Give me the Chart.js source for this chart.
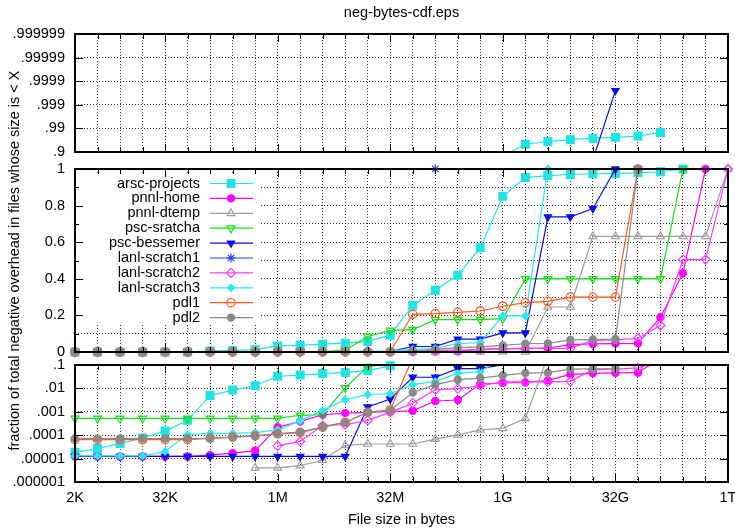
<!DOCTYPE html>
<html lang="en">
<head>
    <meta charset="UTF-8">
    <title>neg-bytes-cdf</title>
    <style>
        body{
            margin: 0;
            background: #fff;
            overflow: hidden;
        }
        #wrap{
            position: relative;
            width: 735px;
            height: 531px;
        }
        #wrap canvas{
            position: absolute;
            left: 0;
            top: 0;
        }
    </style>
</head>
<body>
<div id="wrap">
    <canvas id="topPanel" width="735" height="531"></canvas>
    <canvas id="midPanel" width="735" height="531"></canvas>
    <canvas id="botPanel" width="735" height="531"></canvas>
</div>
<script src="https://cdn.jsdelivr.net/npm/chart.js"></script>
<script>
    // x positions are powers of two: 2^11 (2K) ... 2^40 (1T)
    const exps = [11,12,13,14,15,16,17,18,19,20,21,22,23,24,25,26,27,28,29,30,31,32,33,34,35,36,37,38,39,40];
    const labelExps = [11, 15, 20, 25, 30, 35, 40];
    const labelTexts = ['2K', '32K', '1M', '32M', '1G', '32G', '1T'];

    // top panel is plotted as -log10(1 - v)
    const topTicks = [1, 2, 3, 4, 5, 6];
    const topTickLabels = ['.9', '.99', '.999', '.9999', '.99999', '.999999'];
    const midTicks = [0, 0.2, 0.4, 0.6, 0.8, 1];
    const midTickLabels = ['0', '0.2', '0.4', '0.6', '0.8', '1'];
    const midMinor = [0.1, 0.3, 0.5, 0.7, 0.9];
    const botTicks = [1e-6, 1e-5, 1e-4, 1e-3, 1e-2, 1e-1];
    const botTickLabels = ['.000001', '.00001', '.0001', '.001', '.01', '.1'];

    const seriesNames = ['arsc-projects', 'pnnl-home', 'pnnl-dtemp', 'psc-sratcha', 'psc-bessemer',
        'lanl-scratch1', 'lanl-scratch2', 'lanl-scratch3', 'pdl1', 'pdl2'];

    const arscProjects = [1.85e-5, 2.7e-5, 4.4e-5, 7.6e-5, 1.5e-4, 4.3e-4, 5.0e-3, 8.5e-3, 0.013, 0.033,
        0.037, 0.043, 0.048, 0.058, 0.092, 0.255, 0.337, 0.419, 0.57, 0.851,
        0.953, 0.964, 0.970, 0.974, 0.976, 0.979, 0.985, 1, null, null];
    const pnnlHome = [1.24e-5, 1.24e-5, 1.24e-5, 1.24e-5, 1.24e-5, 1.24e-5, 1.4e-5, 1.7e-5, 2.2e-5, 2.2e-4,
        3.9e-4, 7.5e-4, 8.8e-4, 9.4e-4, 1.03e-3, 1.1e-3, 2.9e-3, 3.2e-3, 0.0154, 0.017,
        0.018, 0.022, 0.04, 0.044, 0.046, 0.047, 0.19, 0.43, 1, null];
    const pnnlDtemp = [0, 0, 0, 0, 0, 0, 0, 0, 4e-6, 4e-6,
        5e-6, 8.5e-6, 3.7e-5, 4.2e-5, 4.2e-5, 4.2e-5, 6.8e-5, 1.04e-4, 1.7e-4, 1.95e-4,
        5.2e-4, 0.246, 0.246, 0.632, 0.632, 0.632, 0.632, 0.632, 0.632, 1];
    const pscSratcha = [5.2e-4, 5.2e-4, 5.2e-4, 5.2e-4, 5.2e-4, 5.2e-4, 5.2e-4, 5.2e-4, 5.2e-4, 5.2e-4,
        7.1e-4, 7.5e-4, 0.0105, 0.085, 0.118, 0.122, 0.177, 0.177, 0.177, 0.182,
        0.40, 0.40, 0.40, 0.40, 0.40, 0.40, 0.40, 1, null, null];
    const pscBessemer = [1.24e-5, 1.24e-5, 1.24e-5, 1.24e-5, 1.24e-5, 1.24e-5, 1.24e-5, 1.24e-5, 1.24e-5, 1.24e-5,
        1.24e-5, 1.24e-5, 1.24e-5, 1.6e-3, 3.5e-3, 0.03, 0.03, 0.07, 0.07, 0.104,
        0.104, 0.738, 0.738, 0.784, 0.99975, 1, null, null, null, null];
    const lanlScratch1 = [null, null, null, null, null, null, null, null, null, null,
        null, null, null, null, null, null, 1, null, null, null,
        null, null, null, null, null, null, null, null, null, null];
    const lanlScratch2 = [0, 0, 0, 0, 0, 0, 0, 0, 0, 3.5e-5,
        5.4e-5, 2.6e-4, 2.8e-4, 4.3e-4, 9.4e-4, 2.35e-3, 8.7e-3, 9.7e-3, 0.013, 0.019,
        0.019, 0.019, 0.02, 0.063, 0.066, 0.075, 0.146, 0.505, 0.505, 1];
    const lanlScratch3 = [1.3e-5, 1.3e-5, 1.3e-5, 1.3e-5, 2.0e-5, 1.07e-4, 1.2e-4, 1.2e-4, 1.3e-4, 1.7e-4,
        4.1e-4, 1.15e-3, 3.3e-3, 5.4e-3, 5.9e-3, 0.0144, 0.02, 0.045, 0.052, 0.197,
        0.197, 1, null, null, null, null, null, null, null, null];
    const pdl1 = [6.5e-5, 6.5e-5, 6.5e-5, 6.5e-5, 6.5e-5, 6.5e-5, 7.5e-5, 8.3e-5, 9.4e-5, 1.15e-4,
        1.3e-4, 2.2e-4, 3.5e-4, 9.5e-4, 1.2e-3, 0.206, 0.21, 0.217, 0.224, 0.25,
        0.27, 0.277, 0.30, 0.30, 0.30, 1, null, null, null, null];
    const pdl2 = [7.2e-5, 7.2e-5, 7.2e-5, 7.2e-5, 7.2e-5, 7.2e-5, 7.2e-5, 8.3e-5, 9.4e-5, 1.15e-4,
        1.4e-4, 2.2e-4, 3.6e-4, 9.5e-4, 1.15e-3, 6.7e-3, 0.0144, 0.0235, 0.0277, 0.036,
        0.045, 0.047, 0.066, 0.068, 0.07, 1, null, null, null, null];

    const seriesValues = [arscProjects, pnnlHome, pnnlDtemp, pscSratcha, pscBessemer,
        lanlScratch1, lanlScratch2, lanlScratch3, pdl1, pdl2];
    const seriesColors = ['#20e3e3', '#ff00ff', '#a0a0a0', '#12e012', '#0a0aee',
        '#2b3bff', '#ff3cff', '#28ecec', '#ff5a1e', '#8a8a8a'];
    const markerStyles = ['rect', 'circle', 'triangle', 'triangle', 'triangle',
        'star', 'rectRot', 'rectRot', 'circle', 'circle'];
    const markerRotation = [0, 0, 0, 180, 180, 0, 0, 0, 0, 0];
    const markerFilled = [true, true, false, false, true, false, false, true, false, true];
    const markerRadius = [5.5, 3.6, 4.5, 4.5, 4.2, 4.5, 4.5, 3.6, 4.2, 3.6];

    const W = 735, H = 531, L = 75, R = 728;
    const gridColor = 'rgba(0,0,0,0.8)';
    const fontFamily = "'Liberation Sans', Arial, Helvetica, sans-serif";

    Chart.defaults.font.family = fontFamily;
    Chart.defaults.font.size = 14.5;
    Chart.defaults.color = '#000';

    function near(a, b) {
        return Math.abs(a - b) <= Math.abs(b) * 1e-6 + 1e-12;
    }

    function buildDatasets(transform, lo, hi) {
        const out = [];
        seriesValues.forEach((vals, k) => {
            const pts = exps.map((x, i) => ({x, y: transform(vals[i])}));
            out.push({
                label: seriesNames[k],
                data: pts,
                borderColor: seriesColors[k],
                borderWidth: 1.2,
                pointRadius: 0,
                pointHitRadius: 0,
                spanGaps: false,
                tension: 0,
                clip: 0,
                order: -2 * k
            });
            out.push({
                label: seriesNames[k] + ' points',
                data: pts.map(p => ({x: p.x, y: (p.y !== null && p.y >= lo && p.y <= hi) ? p.y : null})),
                showLine: false,
                pointStyle: markerStyles[k],
                pointRotation: markerRotation[k],
                pointRadius: markerRadius[k],
                pointBackgroundColor: markerFilled[k] ? seriesColors[k] : 'rgba(0,0,0,0)',
                pointBorderColor: seriesColors[k],
                pointBorderWidth: 1.2,
                clip: false,
                order: -2 * k - 1
            });
        });
        return out;
    }

    function xScale(showLabels) {
        return {
            type: 'linear',
            min: 11,
            max: 40,
            afterBuildTicks: s => { s.ticks = exps.map(v => ({value: v})); },
            afterFit: s => {
                s.height = showLabels ? H - 482 : 0;
                s.paddingLeft = 0;
                s.paddingRight = 0;
            },
            grid: {color: gridColor, lineWidth: 1, drawTicks: false},
            border: {display: false, dash: [1, 2]},
            ticks: {
                display: showLabels,
                autoSkip: false,
                maxRotation: 0,
                padding: 7,
                callback: v => {
                    const j = labelExps.indexOf(v);
                    return j >= 0 ? labelTexts[j] : '';
                }
            },
            title: {
                display: showLabels,
                text: 'File size in bytes',
                padding: {top: 0, bottom: 2}
            }
        };
    }

    function yScale(extra, tickValues, labelValues, labels) {
        return Object.assign({
            type: 'linear',
            afterBuildTicks: s => { s.ticks = tickValues.map(v => ({value: v})); },
            afterFit: s => {
                s.width = L;
                s.paddingTop = 0;
                s.paddingBottom = 0;
            },
            grid: {color: gridColor, lineWidth: 1, drawTicks: false},
            border: {display: false, dash: [1, 2]},
            ticks: {
                autoSkip: false,
                padding: 10,
                callback: v => {
                    const j = labelValues.findIndex(t => near(v, t));
                    return j >= 0 ? labels[j] : '';
                }
            }
        }, extra);
    }

    // border with inward tick marks, like the gnuplot frame
    const framePlugin = {
        id: 'frame',
        afterDraw(chart, args, opts) {
            const {ctx, chartArea: a, scales} = chart;
            ctx.save();
            ctx.strokeStyle = '#000';
            ctx.lineWidth = 1;
            ctx.beginPath();
            exps.forEach(e => {
                const px = Math.round(scales.x.getPixelForValue(e)) + 0.5;
                const len = labelExps.includes(e) ? 8 : 5;
                ctx.moveTo(px, a.bottom); ctx.lineTo(px, a.bottom - len);
                ctx.moveTo(px, a.top); ctx.lineTo(px, a.top + len);
            });
            const yTicks = (list, len) => list.forEach(v => {
                const py = Math.round(scales.y.getPixelForValue(v)) + 0.5;
                ctx.moveTo(a.left, py); ctx.lineTo(a.left + len, py);
                ctx.moveTo(a.right, py); ctx.lineTo(a.right - len, py);
            });
            yTicks(opts.major || [], 8);
            yTicks(opts.minor || [], 4);
            ctx.stroke();
            ctx.lineWidth = 2;
            ctx.strokeRect(a.left, a.top, a.right - a.left, a.bottom - a.top);
            ctx.restore();
        }
    };

    // gnuplot style key: text on the left, line sample with marker on the right
    const keyPlugin = {
        id: 'key',
        beforeDatasetsDraw(chart) {
            const ctx = chart.ctx;
            ctx.save();
            ctx.fillStyle = '#fff';
            ctx.fillRect(77, 175, 183, 150);
            ctx.font = '14.5px ' + fontFamily;
            ctx.textAlign = 'right';
            ctx.textBaseline = 'middle';
            seriesNames.forEach((name, k) => {
                const y = 183.5 + k * 14.9;
                ctx.fillStyle = '#000';
                ctx.fillText(name, 200, y);
                ctx.strokeStyle = seriesColors[k];
                ctx.lineWidth = 1.2;
                ctx.beginPath();
                ctx.moveTo(210, y);
                ctx.lineTo(253, y);
                ctx.stroke();
                ctx.fillStyle = markerFilled[k] ? seriesColors[k] : 'rgba(0,0,0,0)';
                Chart.helpers.drawPoint(ctx, {
                    pointStyle: markerStyles[k],
                    rotation: markerRotation[k],
                    radius: markerRadius[k],
                    borderWidth: 1.2
                }, 231, y);
            });
            ctx.restore();
        }
    };

    const common = {
        responsive: false,
        animation: false,
        devicePixelRatio: 1,
        events: []
    };

    new Chart(document.getElementById('topPanel'), {
        type: 'line',
        data: {datasets: buildDatasets(v => (v === null || v >= 1) ? null : -Math.log10(1 - v), 1, 6)},
        options: Object.assign({}, common, {
            layout: {padding: {top: 0, left: 0, right: W - R, bottom: H - 152}},
            scales: {
                x: xScale(false),
                y: yScale({min: 1, max: 6}, topTicks, topTicks, topTickLabels)
            },
            plugins: {
                legend: {display: false},
                tooltip: {enabled: false},
                title: {
                    display: true,
                    fullSize: false,
                    text: 'neg-bytes-cdf.eps',
                    font: {size: 14.5, weight: 'normal'},
                    padding: {top: 4, bottom: 12.6}
                },
                frame: {major: topTicks}
            }
        }),
        plugins: [framePlugin]
    });

    const midGrid = midTicks.concat(midMinor).sort((a, b) => a - b);
    new Chart(document.getElementById('midPanel'), {
        type: 'line',
        data: {datasets: buildDatasets(v => v, 0, 1)},
        options: Object.assign({}, common, {
            layout: {padding: {top: 169, left: 0, right: W - R, bottom: H - 352}},
            scales: {
                x: xScale(false),
                y: yScale({
                    min: 0,
                    max: 1,
                    title: {
                        display: true,
                        text: 'fraction of total negative overhead in files whose size is < X',
                        padding: {top: 6, bottom: 0}
                    }
                }, midGrid, midTicks, midTickLabels)
            },
            plugins: {
                legend: {display: false},
                tooltip: {enabled: false},
                frame: {major: midTicks, minor: midMinor}
            }
        }),
        plugins: [framePlugin, keyPlugin]
    });

    new Chart(document.getElementById('botPanel'), {
        type: 'line',
        data: {datasets: buildDatasets(v => (v === null || v <= 0) ? null : v, 1e-6 * 0.999, 0.1 * 1.001)},
        options: Object.assign({}, common, {
            layout: {padding: {top: 365, left: 0, right: W - R, bottom: 0}},
            scales: {
                x: xScale(true),
                y: yScale({type: 'logarithmic', min: 1e-6, max: 0.1}, botTicks, botTicks, botTickLabels)
            },
            plugins: {
                legend: {display: false},
                tooltip: {enabled: false},
                frame: {major: botTicks}
            }
        }),
        plugins: [framePlugin]
    });
</script>
</body>
</html>
